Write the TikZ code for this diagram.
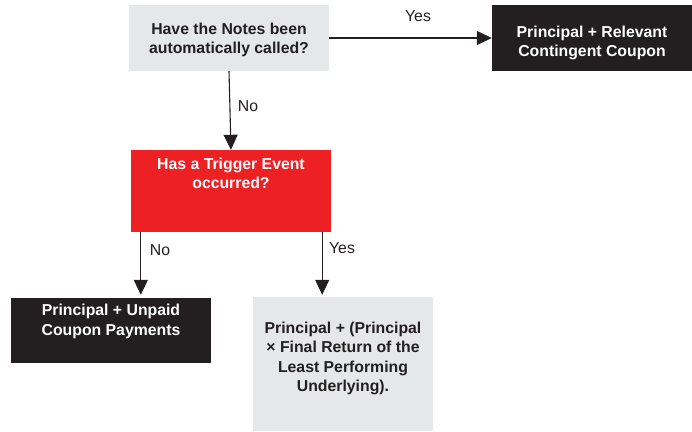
\documentclass[tikz,border=0pt]{standalone}
\usepackage{fontspec}
\setmainfont{Liberation Sans}
\usetikzlibrary{arrows.meta,calc}
\definecolor{boxgray}{HTML}{E6E7E8}
\definecolor{boxred}{HTML}{ED2024}
\definecolor{boxblack}{HTML}{231F20}
\tikzset{
  panel/.style={rectangle, inner sep=0pt, draw=none},
  graypanel/.style={panel, fill=boxgray},
  redpanel/.style={panel, fill=boxred},
  blackpanel/.style={panel, fill=boxblack},
  boxtext/.style={inner sep=0pt, align=center, font=\fontsize{15.8}{19.2}\selectfont\bfseries},
  darktext/.style={boxtext, text=boxblack},
  lighttext/.style={boxtext, text=white},
  lbl/.style={inner sep=0pt, font=\fontsize{15.8}{19}\selectfont, text=boxblack},
  arr/.style={draw=boxblack, line width=1.1pt, -{Triangle[length=15pt,width=14pt]}}
}
\begin{document}
\begin{tikzpicture}[x=1pt,y=-1pt]
\useasboundingbox (0,0) rectangle (692,431);
% boxes
\node[graypanel, minimum width=200pt, minimum height=66pt] (q1) at (229,38) {};
\node[blackpanel, minimum width=200pt, minimum height=66pt] (r1) at (592,38) {};
\node[redpanel, minimum width=200pt, minimum height=82pt] (q2) at (231,191) {};
\node[blackpanel, minimum width=200pt, minimum height=65pt] (r2) at (111,330.5) {};
\node[graypanel, minimum width=180pt, minimum height=134pt] (r3) at (343,364) {};
% texts
\node[darktext] (t1) at (229,40) {Have the Notes been\\automatically called?};
\node[lighttext] (t2) at (592,43) {Principal + Relevant\\Contingent Coupon};
\node[lighttext] (t3) at (231,173.5) {Has a Trigger Event\\occurred?};
\node[lighttext] (t4) at (111,321.5) {Principal + Unpaid\\Coupon Payments};
\node[darktext] (t5) at (343,358.5) {Principal + (Principal\\× Final Return of the\\Least Performing\\Underlying).};
% connectors
\draw[arr] (q1.east) -- (r1.west);
\draw[arr] (q1.south) -- (q2.north);
\draw[arr, shorten >=3pt] ([xshift=10pt]q2.south west) -- ([xshift=10pt]q2.south west |- r2.north);
\draw[arr, shorten >=2pt] ([xshift=-9pt]q2.south east) -- ([xshift=-9pt]q2.south east |- r3.north);
% labels
\node[lbl] (yes1) at (418,16) {Yes};
\node[lbl] (no1) at (248,106) {No};
\node[lbl] (no2) at (160,250) {No};
\node[lbl] (yes2) at (342,248) {Yes};
\end{tikzpicture}
\end{document}
